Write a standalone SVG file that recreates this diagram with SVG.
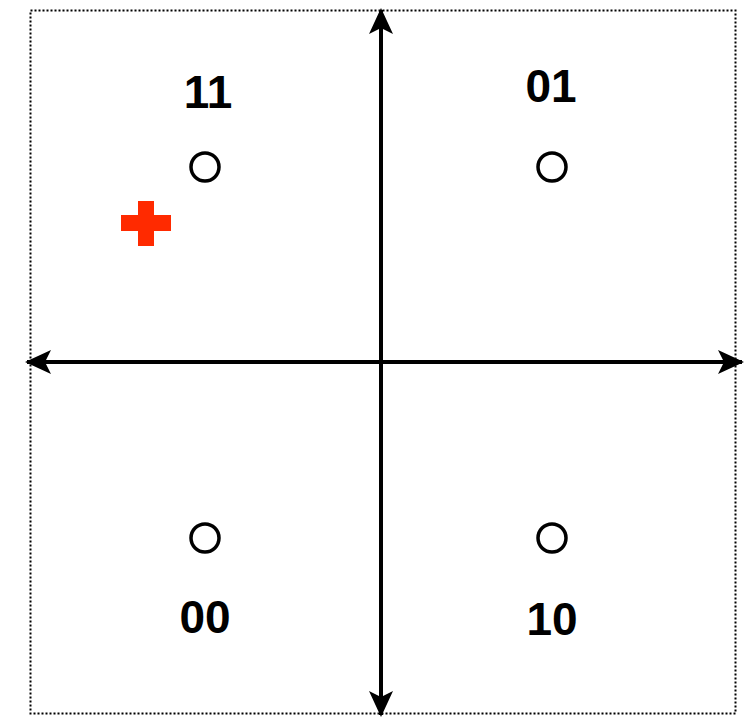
<svg xmlns="http://www.w3.org/2000/svg" width="750" height="717" viewBox="0 0 750 717">
<style>
.lbl{font-family:"Liberation Sans",Arial,sans-serif;font-weight:bold;font-size:46px;fill:#000;text-anchor:middle}
.pt{fill:none;stroke:#000;stroke-width:3.5}
.ax{stroke:#000;stroke-width:4;fill:none}
</style>
<defs>
<marker id="ah" viewBox="0 0 26 26" refX="24" refY="13" markerWidth="26" markerHeight="26" markerUnits="userSpaceOnUse" orient="auto">
<path d="M0,1 L26,13 L0,25 L6,13 Z" fill="#000"/>
</marker>
</defs>
<rect x="30.5" y="10.5" width="705" height="703" fill="#fff" stroke="#000" stroke-width="2" stroke-dasharray="2,2"/>
<g id="connectors">
<line class="ax" x1="381" y1="362" x2="381" y2="10" marker-end="url(#ah)"/>
<line class="ax" x1="381" y1="362" x2="381" y2="715" marker-end="url(#ah)"/>
<line class="ax" x1="381" y1="362" x2="27" y2="362" marker-end="url(#ah)"/>
<line class="ax" x1="381" y1="362" x2="742" y2="362" marker-end="url(#ah)"/>
</g>
<g id="n11"><circle class="pt" cx="205" cy="167" r="14"/><text class="lbl" x="208" y="108">11</text></g>
<g id="n01"><circle class="pt" cx="552" cy="167" r="14"/><text class="lbl" x="551" y="102">01</text></g>
<g id="n00"><circle class="pt" cx="205" cy="538" r="14"/><text class="lbl" x="205" y="633">00</text></g>
<g id="n10"><circle class="pt" cx="552" cy="538" r="14"/><text class="lbl" x="552" y="635">10</text></g>
<g id="cross"><path d="M138,201 H154 V215 H171 V231 H154 V246 H138 V231 H121 V215 H138 Z" fill="#FF2A00"/></g>
</svg>
